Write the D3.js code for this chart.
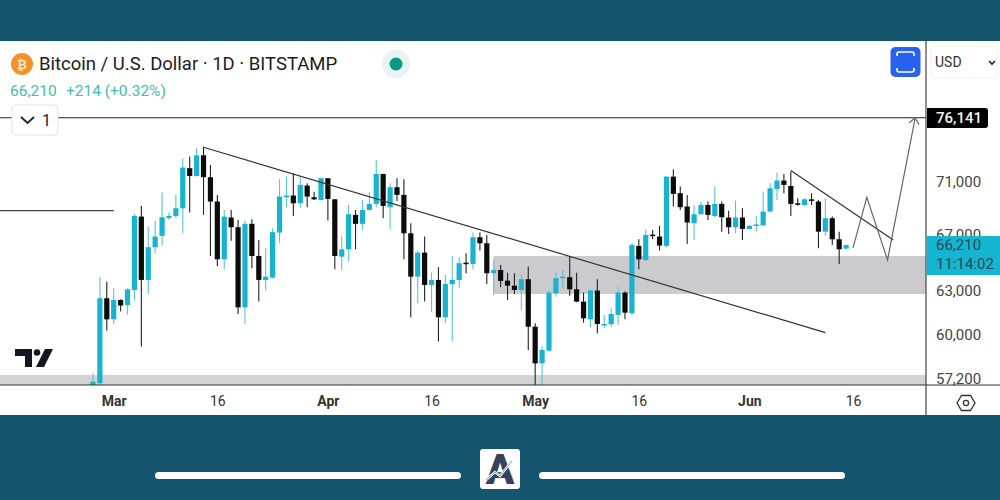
<!DOCTYPE html>
<html>
<head>
<meta charset="utf-8">
<script src="https://cdn.jsdelivr.net/npm/d3@7"></script>
<style>
  html, body { margin: 0; padding: 0; background: #fff; }
  svg { display: block; font-family: Roboto, sans-serif; }
</style>
</head>
<body>
<div id="chart"></div>
<script>
// daily candles, Feb 27 to Jun 15
var firstDay = "2024-02-27";
var opens = [56770,56880,62450,61020,62330,61990,63020,68310,63720,66050,66880,68210,68360,68940,72040,71430,73070,71330,69450,65180,68240,67520,61830,67770,65420,63720,63880,67120,69780,69910,69320,70680,69780,69570,71250,69620,65370,65900,68440,67770,68810,69270,71590,69020,70550,69960,67070,63950,65660,63370,63720,61160,63420,63720,64940,64850,66780,66340,64190,64420,63670,63320,63020,63770,60530,58140,58960,62790,63860,63910,63070,62220,61020,62980,60650,60690,61320,62840,61430,66150,65130,66970,66830,66150,71380,70090,69070,67820,68490,69190,68360,69270,68240,67520,68240,67390,67650,67650,68690,70420,71070,70650,69320,69190,69620,69450,67190,68190,66630,65950];
var highs = [57510,63950,63600,63140,62380,63140,68510,69120,67570,68010,70140,68610,69960,72830,72970,73640,73770,72300,69960,68810,68810,68060,68010,68110,66580,65980,67450,71170,71380,71640,71330,70860,70210,71250,71250,69650,66830,69190,68810,69570,70210,72700,71590,70860,71250,71170,67820,65810,66830,64230,64610,64070,65420,65330,65610,67120,67120,66950,65180,64780,64230,64190,64070,64660,60760,59220,63020,64300,64420,65370,64230,62840,63070,63770,61320,61770,63250,62910,66340,66630,67370,67320,67620,71380,71960,70600,69960,69190,69450,69450,70600,69450,68760,69520,68940,67690,68360,70210,70860,71700,71590,71770,69700,69700,70090,69570,69700,68310,67190,66250];
var lows = [56300,56770,60270,60710,61540,61320,62290,59220,62750,65570,66150,68060,68190,67070,68610,71380,68440,65420,64710,64470,66530,61380,60710,64540,62220,62980,63840,66340,69020,68360,68940,69020,69570,69520,68010,64470,64420,65020,65900,67320,68810,69020,68190,67370,69500,65180,61160,62110,62220,61540,59550,60760,59550,63140,64190,64470,65810,63440,62680,63210,62330,62750,61650,59000,56500,56500,58890,62560,63140,62630,62170,60800,60490,60090,60420,60530,60650,61020,61320,64470,65020,66630,65810,66050,69070,68810,66290,66580,68440,68060,68260,67190,67020,67070,66580,67370,67190,67620,68610,69570,70090,68360,69120,69120,69190,65980,66880,66220,64850,65900];
var closes = [56980,62450,61020,62330,61950,63070,68360,63720,66050,66830,68260,68360,68940,72090,71430,73070,71330,69450,65180,68310,67520,61830,67770,65420,63720,63950,67150,69830,69910,69320,70730,69830,69620,71250,69650,65420,65900,68490,67770,68810,69270,71590,69120,70550,69960,67070,63950,65660,63370,63720,61160,63440,63720,64900,64870,66780,66340,64190,64420,63650,63320,63020,63770,60530,58140,59000,62840,63840,63950,63070,62220,61090,62980,60710,60710,61380,62840,61470,66220,65180,66950,66900,66170,71380,70040,69020,67870,68490,69190,68440,69270,68260,67520,68240,67390,67620,67720,68690,70470,71070,70730,69270,69220,69620,69500,67190,68190,66630,65900,66210];

var priceTicks = [71000, 67000, 63000, 60000, 57200];
var timeTicks = ["2024-03-01","2024-03-16","2024-04-01","2024-04-16","2024-05-01","2024-05-16","2024-06-01","2024-06-16"];
var timeLabels = ["Mar","16","Apr","16","May","16","Jun","16"];
var monthLabels = ["Mar","Apr","May","Jun"];

// drawings on the chart
var trendDates = ["2024-03-14","2024-06-12"];
var trendPrices = [73720, 60140];
var shortTrendDates = ["2024-06-07","2024-06-21T20:00"];
var shortTrendPrices = [71850, 66580];
var projectionDates = ["2024-06-16","2024-06-18","2024-06-21","2024-06-25"];
var projectionPrices = [66000, 69770, 65130, 76141];
var zoneStarts = ["2024-04-25","2024-01-01"];
var zoneEnds = ["2024-07-15","2024-07-15"];
var zoneTops = [65420, 57400];
var zoneBottoms = [62750, 56000];
var levelPrice = 76141;
var oldLevelDates = ["2024-01-01","2024-03-01"];
var oldLevelPrice = 68760;
var lastPrice = 66210;

var parseDay = function(s){ return new Date(s.length > 10 ? s + "Z" : s + "T00:00Z"); };
var days = d3.utcDay.range(parseDay(firstDay), d3.utcDay.offset(parseDay(firstDay), closes.length));

var plotRight = 926, plotTop = 41, plotBottom = 385;

var x = d3.scaleUtc()
  .domain([parseDay("2024-03-01"), parseDay("2024-06-16")])
  .range([113.7, 853]);
var y = d3.scaleLog()
  .domain([57200, 76141])
  .range([378.2, 117.8]);

var svg = d3.select("#chart").append("svg")
  .attr("width", 1000)
  .attr("height", 500);

svg.append("defs").append("clipPath").attr("id", "plot")
  .append("rect")
  .attr("x", 0).attr("y", plotTop)
  .attr("width", plotRight).attr("height", plotBottom - plotTop);

var marker = svg.select("defs").append("marker")
  .attr("id", "arrow")
  .attr("viewBox", "-8 -8 16 16")
  .attr("markerWidth", 16).attr("markerHeight", 16)
  .attr("markerUnits", "userSpaceOnUse")
  .attr("orient", "auto");
marker.append("path")
  .attr("d", "M-6,-5L0,0L-6,5")
  .attr("fill", "none").attr("stroke", "#666").attr("stroke-width", 1.2);

// page bands
svg.append("rect").attr("width", 1000).attr("height", 41).attr("fill", "#14546d");
svg.append("rect").attr("y", 415).attr("width", 1000).attr("height", 85).attr("fill", "#14546d");

var plot = svg.append("g").attr("clip-path", "url(#plot)");

plot.selectAll("rect.zone")
  .data(zoneTops)
  .enter()
  .append("rect")
  .attr("class", "zone")
  .attr("x", function(d, i){ return x(parseDay(zoneStarts[i])); })
  .attr("y", function(d){ return y(d); })
  .attr("width", function(d, i){ return x(parseDay(zoneEnds[i])) - x(parseDay(zoneStarts[i])); })
  .attr("height", function(d, i){ return y(zoneBottoms[i]) - y(d); })
  .attr("fill", function(d, i){ return i == 0 ? "#cbcbcf" : "#d3d3d5"; });

plot.append("line")
  .attr("x1", 0).attr("x2", plotRight)
  .attr("y1", y(levelPrice)).attr("y2", y(levelPrice))
  .attr("stroke", "#222").attr("stroke-width", 1.1);

plot.append("line")
  .attr("x1", x(parseDay(oldLevelDates[0]))).attr("x2", x(parseDay(oldLevelDates[1])))
  .attr("y1", y(oldLevelPrice)).attr("y2", y(oldLevelPrice))
  .attr("stroke", "#444").attr("stroke-width", 1.1);

// candles
plot.selectAll("line.wick")
  .data(days)
  .enter()
  .append("line")
  .attr("class", "wick")
  .attr("x1", function(d){ return x(d); })
  .attr("x2", function(d){ return x(d); })
  .attr("y1", function(d, i){ return y(highs[i]); })
  .attr("y2", function(d, i){ return y(lows[i]); })
  .attr("stroke", function(d, i){ return closes[i] >= opens[i] ? "#5cc3d3" : "#222"; })
  .attr("stroke-width", 1.1);

plot.selectAll("rect.body")
  .data(days)
  .enter()
  .append("rect")
  .attr("class", "body")
  .attr("x", function(d){ return x(d) - 2.6; })
  .attr("y", function(d, i){ return y(Math.max(opens[i], closes[i])); })
  .attr("width", 5.2)
  .attr("height", function(d, i){ return Math.max(1.5, Math.abs(y(opens[i]) - y(closes[i]))); })
  .attr("fill", function(d, i){ return closes[i] >= opens[i] ? "#17b3cf" : "#0c0c0c"; });

var drawn = d3.line()
  .x(function(d){ return x(parseDay(d[0])); })
  .y(function(d){ return y(d[1]); });

plot.append("path")
  .attr("d", drawn(d3.zip(trendDates, trendPrices)))
  .attr("fill", "none").attr("stroke", "#333").attr("stroke-width", 1.2);
plot.append("path")
  .attr("d", drawn(d3.zip(shortTrendDates, shortTrendPrices)))
  .attr("fill", "none").attr("stroke", "#333").attr("stroke-width", 1.2);
plot.append("path")
  .attr("d", drawn(d3.zip(projectionDates, projectionPrices)))
  .attr("fill", "none").attr("stroke", "#666").attr("stroke-width", 1.2)
  .attr("marker-end", "url(#arrow)");

// tradingview logo
var logo = svg.append("g").attr("fill", "#131722");
logo.append("path").attr("d", "M15,349H32V367H25V356H15Z");
logo.append("circle").attr("cx", 37).attr("cy", 352.5).attr("r", 3.3);
logo.append("path").attr("d", "M45,349H53L44,367H36Z");

// axes
var priceAxis = d3.axisRight(y)
  .tickValues(priceTicks)
  .tickFormat(d3.format(","))
  .tickSize(0)
  .tickPadding(0);
var priceG = svg.append("g").attr("transform", "translate(936,0)").call(priceAxis);
priceG.select(".domain").remove();
priceG.selectAll("text")
  .attr("font-family", "Roboto").attr("font-size", 15).attr("fill", "#444");

var timeAxis = d3.axisBottom(x)
  .tickValues(timeTicks.map(parseDay))
  .tickFormat(function(d, i){ return timeLabels[i]; })
  .tickSize(0)
  .tickPadding(11);
var timeG = svg.append("g").attr("transform", "translate(0," + plotBottom + ")").call(timeAxis);
timeG.select(".domain").remove();
timeG.selectAll("text")
  .attr("font-family", "Roboto").attr("font-size", 14).attr("fill", "#333")
  .attr("font-weight", function(d, i){ return monthLabels.indexOf(timeLabels[i]) >= 0 ? 700 : 400; });

svg.append("line")
  .attr("x1", 0).attr("x2", 1000)
  .attr("y1", plotBottom).attr("y2", plotBottom)
  .attr("stroke", "#333").attr("stroke-width", 1.2);
svg.append("line")
  .attr("x1", plotRight).attr("x2", plotRight)
  .attr("y1", plotTop).attr("y2", 415)
  .attr("stroke", "#444").attr("stroke-width", 1.2);

// price tags
svg.append("rect")
  .attr("x", plotRight + 0.6).attr("y", y(lastPrice) - 9)
  .attr("width", 74).attr("height", 39)
  .attr("fill", "#14b5d0");
svg.append("text")
  .attr("x", 936).attr("y", y(lastPrice) + 5)
  .attr("font-size", 15).attr("fill", "#2d4650")
  .text(d3.format(",")(lastPrice));
svg.append("text")
  .attr("x", 936).attr("y", y(lastPrice) + 24)
  .attr("font-size", 15).attr("fill", "#2d4650")
  .text("11:14:02");

svg.append("path")
  .attr("d", "M927,108H985a3,3 0 0 1 3,3V125a3,3 0 0 1 -3,3H927Z")
  .attr("fill", "#000");
svg.append("text")
  .attr("x", 936).attr("y", y(levelPrice) + 5)
  .attr("font-size", 15).attr("font-weight", 500).attr("fill", "#f4f4f4")
  .text(d3.format(",")(levelPrice));

// header
svg.append("circle").attr("cx", 22).attr("cy", 64).attr("r", 11).attr("fill", "#f0932b");
svg.append("text")
  .attr("x", 22).attr("y", 68.5).attr("text-anchor", "middle")
  .attr("font-size", 12).attr("font-weight", 700).attr("fill", "#ffe9cc")
  .text("₿");
svg.append("text")
  .attr("x", 39).attr("y", 70)
  .attr("font-size", 18.5).attr("fill", "#1c1c20")
  .text("Bitcoin / U.S. Dollar · 1D · BITSTAMP");
svg.append("text")
  .attr("x", 10).attr("y", 96)
  .attr("font-size", 15.5).attr("fill", "#45bdb0")
  .text("66,210");
svg.append("text")
  .attr("x", 66).attr("y", 96)
  .attr("font-size", 15.5).attr("fill", "#45bdb0")
  .text("+214 (+0.32%)");

svg.append("circle").attr("cx", 396).attr("cy", 64).attr("r", 14).attr("fill", "#e8f4f2");
svg.append("circle").attr("cx", 396).attr("cy", 64).attr("r", 6.5).attr("fill", "#089981");

svg.append("rect")
  .attr("x", 12).attr("y", 105).attr("width", 46).attr("height", 30).attr("rx", 4)
  .attr("fill", "#fff").attr("stroke", "#e4e4e6");
svg.append("path")
  .attr("d", "M21,117L27.5,123L34,117")
  .attr("fill", "none").attr("stroke", "#222").attr("stroke-width", 1.8);
svg.append("text")
  .attr("x", 42).attr("y", 126)
  .attr("font-size", 16).attr("fill", "#222")
  .text("1");

svg.append("rect")
  .attr("x", 890.5).attr("y", 47).attr("width", 30).attr("height", 30).attr("rx", 5)
  .attr("fill", "#2962ee");
svg.append("path")
  .attr("d", "M897,56V54a2,2 0 0 1 2,-2H912a2,2 0 0 1 2,2V56M914,68V70a2,2 0 0 1 -2,2H899a2,2 0 0 1 -2,-2V68")
  .attr("fill", "none").attr("stroke", "#fff").attr("stroke-width", 1.6);

svg.append("rect")
  .attr("x", 931).attr("y", 46).attr("width", 66).attr("height", 32).attr("rx", 5)
  .attr("fill", "#fff").attr("stroke", "#f0f0f2");
svg.append("text")
  .attr("x", 935).attr("y", 67)
  .attr("font-size", 14).attr("fill", "#333")
  .text("USD");
svg.append("path")
  .attr("d", "M989,61L992,64L995,61")
  .attr("fill", "none").attr("stroke", "#222").attr("stroke-width", 1.6);

// settings gear
svg.append("path")
  .attr("d", "M957,403L961.5,395.5H970.5L975,403L970.5,410.5H961.5Z")
  .attr("fill", "none").attr("stroke", "#333").attr("stroke-width", 1.3);
svg.append("circle")
  .attr("cx", 966).attr("cy", 403).attr("r", 2.6)
  .attr("fill", "none").attr("stroke", "#333").attr("stroke-width", 1.3);

// bottom bar
svg.append("rect").attr("x", 155).attr("y", 472).attr("width", 306).attr("height", 7).attr("rx", 3.5).attr("fill", "#fff");
svg.append("rect").attr("x", 539).attr("y", 472).attr("width", 306).attr("height", 7).attr("rx", 3.5).attr("fill", "#fff");
svg.append("rect").attr("x", 480).attr("y", 449).attr("width", 40).attr("height", 40).attr("rx", 3).attr("fill", "#fff");
svg.append("text")
  .attr("x", 500).attr("y", 484).attr("text-anchor", "middle")
  .attr("font-size", 42).attr("font-weight", 900).attr("fill", "#34425a")
  .text("A");
svg.append("path")
  .attr("d", "M486,480L495,472L500,476L512,461")
  .attr("fill", "none").attr("stroke", "#fff").attr("stroke-width", 2.4);
svg.append("path")
  .attr("d", "M486,480L495,472L500,476L512,461")
  .attr("fill", "none").attr("stroke", "#6fa3c8").attr("stroke-width", 1);
</script>
</body>
</html>
